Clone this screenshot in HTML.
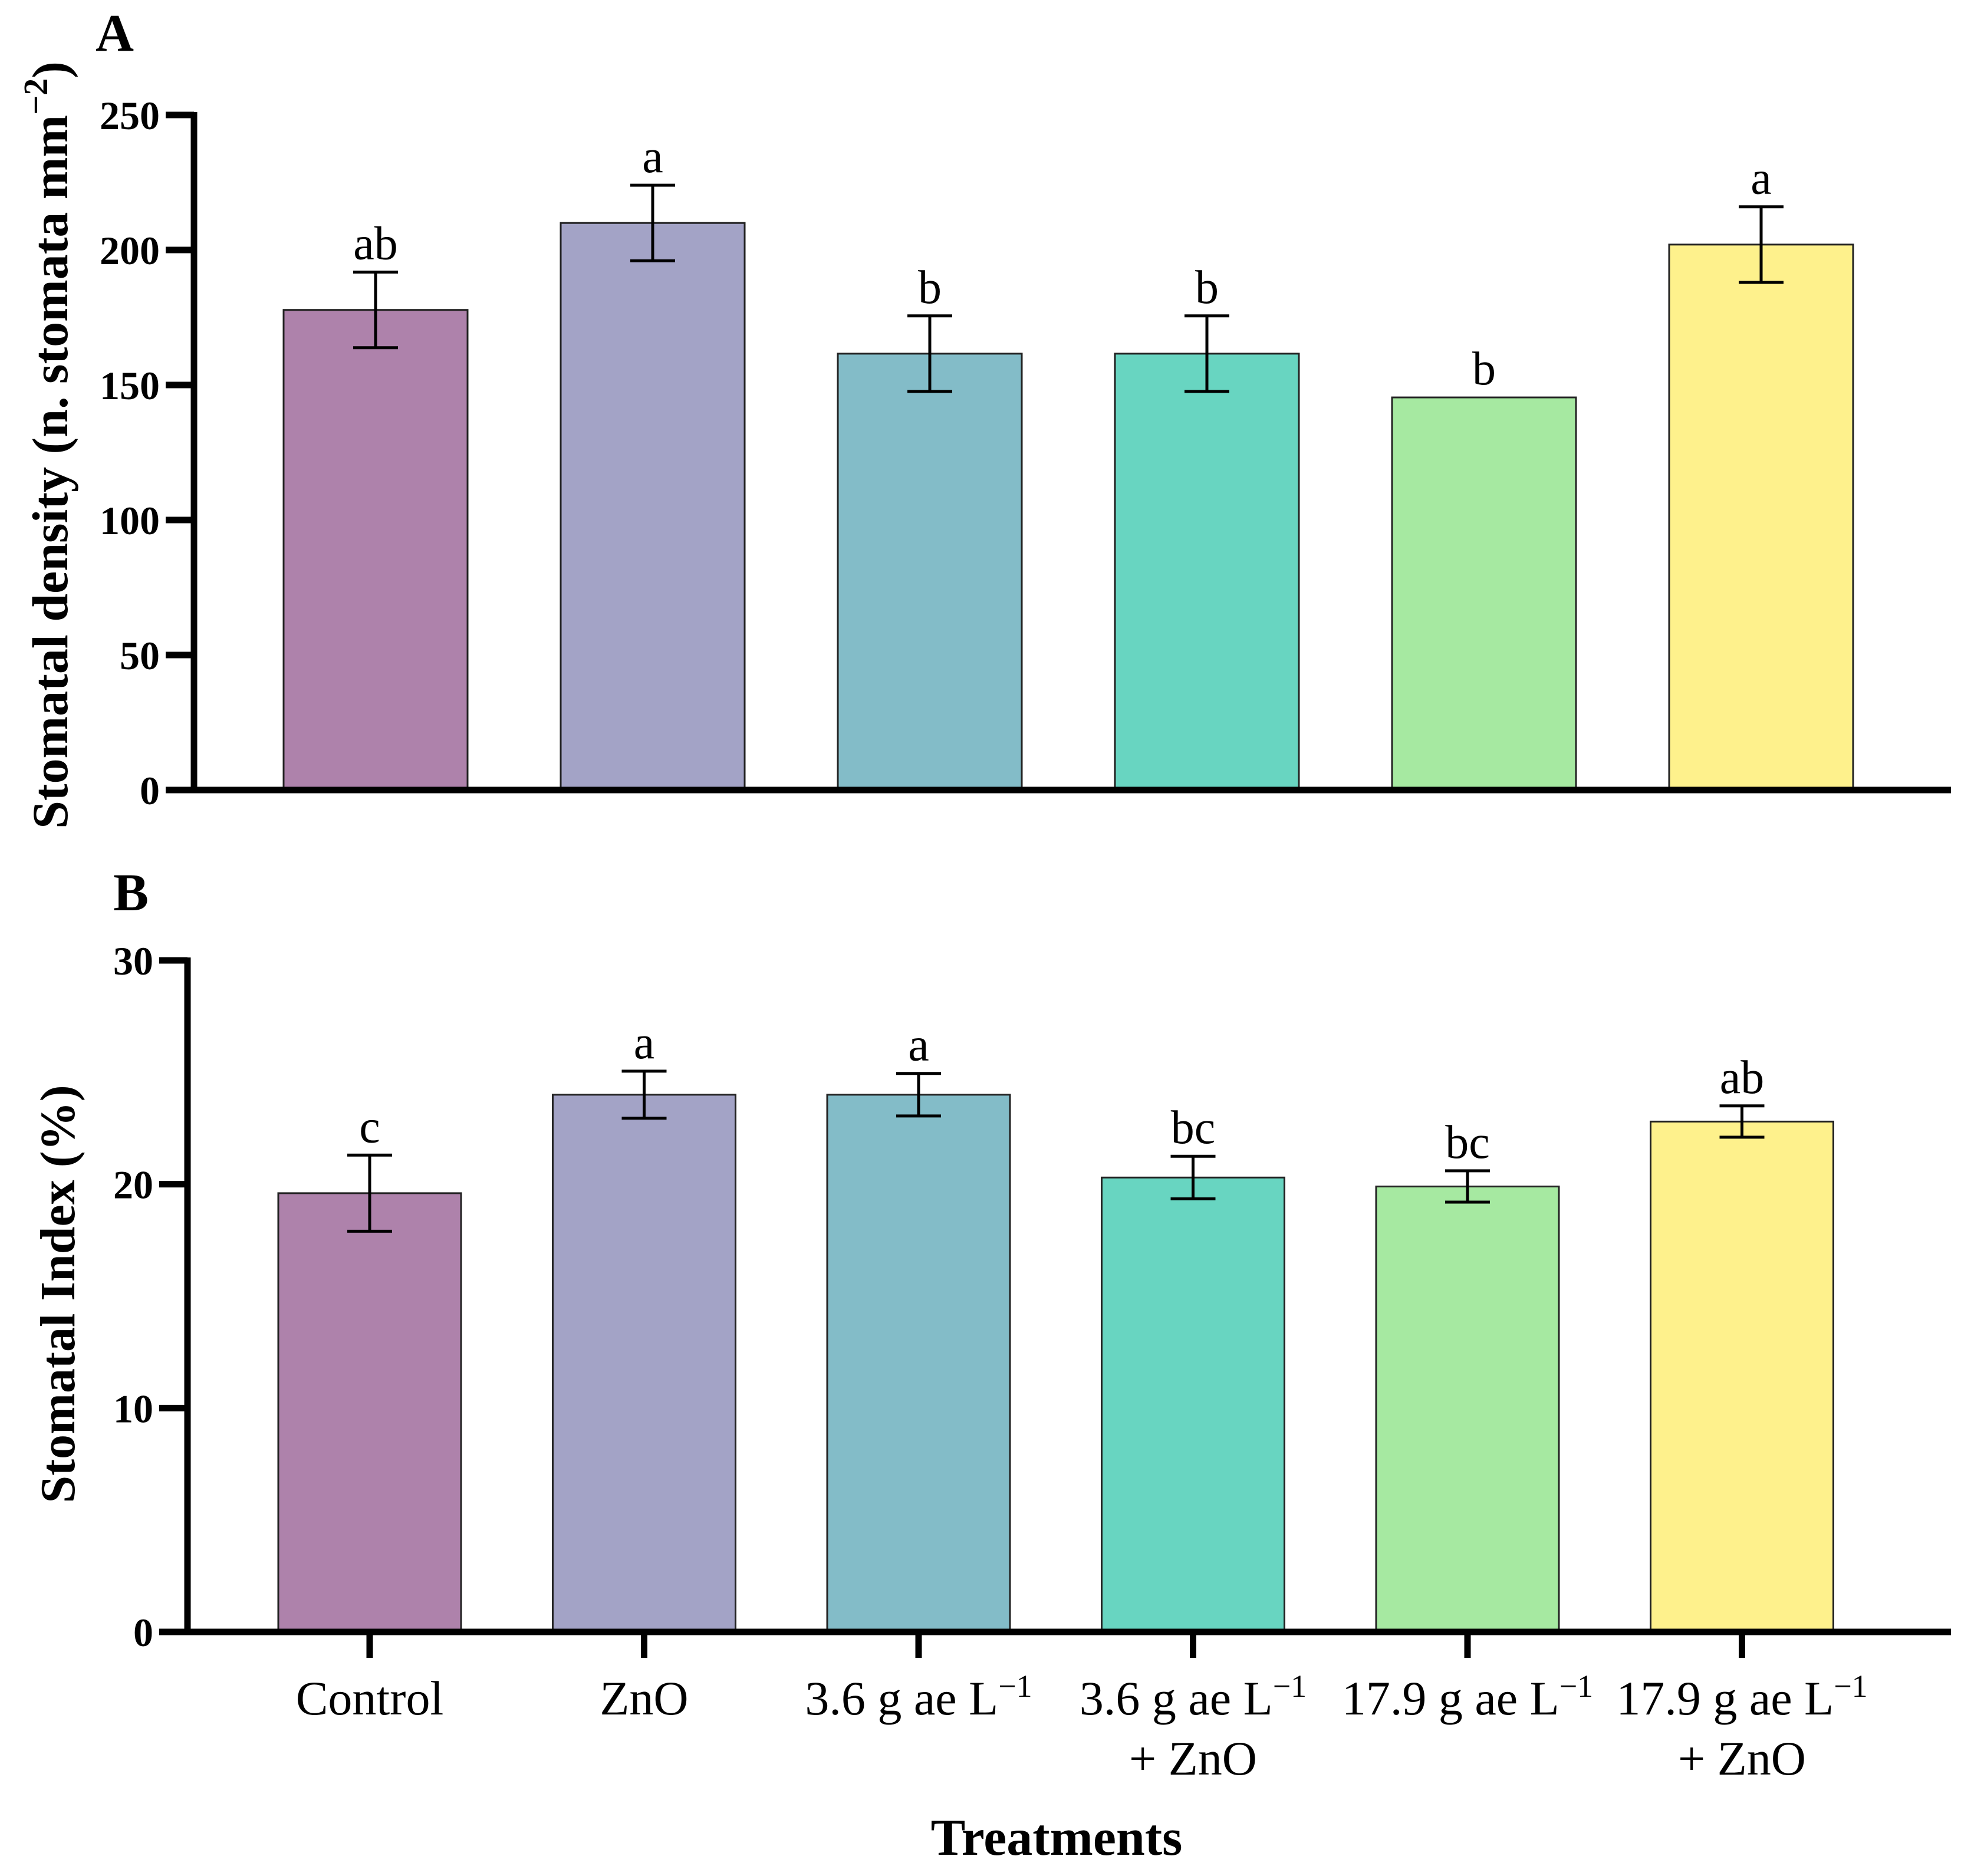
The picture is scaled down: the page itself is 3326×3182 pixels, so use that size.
<!DOCTYPE html>
<html><head><meta charset="utf-8"><style>
html,body{margin:0;padding:0;background:#fff;}
svg{display:block;}
text{font-family:"Liberation Serif",serif;fill:#000;}
</style></head><body>
<svg id="chart" width="3326" height="3182" viewBox="0 0 3326 3182">
<g id="panelA"></g>
<g id="panelB"></g>
<text x="1792" y="3146" font-size="88" font-weight="bold" text-anchor="middle">Treatments</text>
</svg>
<script>
const categories = ["Control","ZnO","3.6 g ae L−1","3.6 g ae L−1 + ZnO","17.9 g ae L−1","17.9 g ae L−1 + ZnO"];
const colors = ["#ae82ab","#a3a3c6","#83bcc8","#68d5c1","#a6e9a1","#fef18c"];
const densityValues = [177.8, 210, 161.6, 161.6, 145.4, 202];
const densityErrors = [14, 14, 14, 14, 0, 14];
const densityLetters = ["ab","a","b","b","b","a"];
const densityTicks = [0,50,100,150,200,250];
const indexValues = [19.6, 24.0, 24.0, 20.3, 19.9, 22.8];
const indexErrors = [1.7, 1.05, 0.95, 0.95, 0.7, 0.7];
const indexLetters = ["c","a","a","bc","bc","ab"];
const indexTicks = [0,10,20,30];

const NS="http://www.w3.org/2000/svg";
function mk(parent, tag, attrs){const e=document.createElementNS(NS,tag);for(const k in attrs)e.setAttribute(k,attrs[k]);parent.appendChild(e);return e;}

function drawPanel(g, cfg){
  const y = v => cfg.y0 - (v - 0) / cfg.max * (cfg.y0 - cfg.yTop);
  const x = i => cfg.c0 + i * cfg.pitch;
  cfg.values.forEach((v,i)=>{
    const r = mk(g,"rect",{x:x(i)-cfg.bw/2,y:y(v),width:cfg.bw,height:y(0)-y(v),fill:colors[i],stroke:"#222","stroke-width":3});
    
    
    const e = cfg.errors[i];
    let topY = y(v);
    if(e>0){
      const eg = mk(g,"g",{stroke:"#000","stroke-width":5});
      
      
      mk(eg,"line",{x1:x(i),x2:x(i),y1:y(v+e),y2:y(v-e)});
      mk(eg,"line",{x1:x(i)-38,x2:x(i)+38,y1:y(v+e),y2:y(v+e)});
      mk(eg,"line",{x1:x(i)-38,x2:x(i)+38,y1:y(v-e),y2:y(v-e)});
      topY = y(v+e);
    }
    const t = mk(g,"text",{x:x(i),y:topY-22,"font-size":80,"text-anchor":"middle"});
    t.textContent = cfg.letters[i];
    
    
  });
  const ax = mk(g,"g",{stroke:"#000","stroke-width":11});
  
  
  mk(ax,"line",{x1:cfg.ax,x2:cfg.ax,y1:y(cfg.max)-5,y2:y(0)+5});
  mk(ax,"line",{x1:cfg.ax-48,x2:3309,y1:y(0),y2:y(0)});
  cfg.ticks.forEach(tv=>{
    mk(ax,"line",{x1:cfg.ax-48,x2:cfg.ax,y1:y(tv),y2:y(tv)});
    const t = mk(g,"text",{x:cfg.ax-58,y:y(tv)+24,"font-size":68,"font-weight":"bold","text-anchor":"end"});
    t.textContent = tv;
    
    
  });
  if(cfg.xticks){
    cfg.values.forEach((v,i)=>{ mk(ax,"line",{x1:x(i),x2:x(i),y1:y(0),y2:y(0)+44}); });
  }
  return {x,y};
}

const gA=document.getElementById('panelA');
drawPanel(gA,{y0:1340,yTop:195,max:250,c0:637,pitch:470,bw:312,ax:329,values:densityValues,errors:densityErrors,letters:densityLetters,ticks:densityTicks});
const gB=document.getElementById('panelB');
const sB=drawPanel(gB,{y0:2768,yTop:1629,max:30,c0:627,pitch:465.5,bw:310,ax:318,values:indexValues,errors:indexErrors,letters:indexLetters,ticks:indexTicks,xticks:true});

function txt(attrs,content,name){const t=mk(document.getElementById('chart'),"text",attrs);t.innerHTML=content;return t;}
txt({x:162,y:86,"font-size":90,"font-weight":"bold"},"A","panel-label-a");
txt({x:192,y:1544,"font-size":90,"font-weight":"bold"},"B","panel-label-b");
txt({x:0,y:0,"font-size":86,"font-weight":"bold","text-anchor":"middle",transform:"translate(114,755) rotate(-90)"},'Stomatal density (n. stomata mm<tspan dy="-34" font-size="58">−2</tspan><tspan dy="34">)</tspan>',"y-axis-title-a");
txt({x:0,y:0,"font-size":84,"font-weight":"bold","text-anchor":"middle",transform:"translate(126,2195) rotate(-90)"},'Stomatal Index (%)',"y-axis-title-b");

const line1=['Control','ZnO','3.6 g ae L<tspan dy="-30" font-size="54">−1</tspan>','3.6 g ae L<tspan dy="-30" font-size="54">−1</tspan>','17.9 g ae L<tspan dy="-30" font-size="54">−1</tspan>','17.9 g ae L<tspan dy="-30" font-size="54">−1</tspan>'];
const line2=['','','','+ ZnO','','+ ZnO'];
line1.forEach((l,i)=>{
  txt({x:sB.x(i),y:2908,"font-size":82,"text-anchor":"middle"},l,'x-tick-label-'+(i+1));
  if(line2[i]) txt({x:sB.x(i),y:3010,"font-size":82,"text-anchor":"middle"},line2[i],'x-tick-label-'+(i+1)+'-line2');
});
</script>
</body></html>
